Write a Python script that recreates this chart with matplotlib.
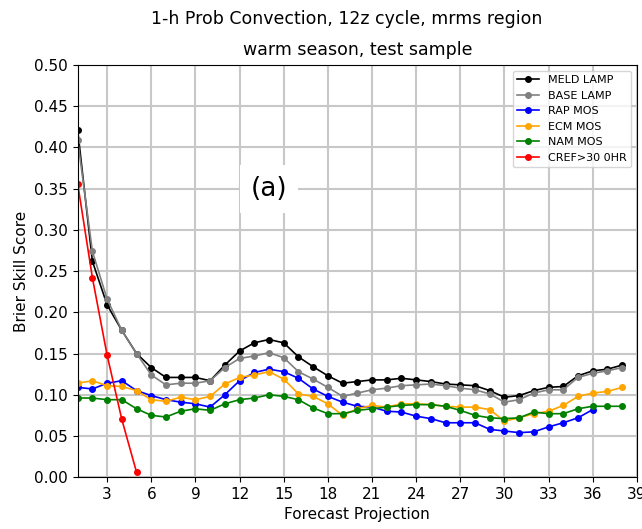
import numpy as np
import matplotlib
matplotlib.use('Agg')
import matplotlib.pyplot as plt

# # --------------------------------------------------------------------------------------------------------------------
proj = np.arange(1, 39)

meld = [0.421, 0.262, 0.209, 0.178, 0.150, 0.133, 0.121, 0.121, 0.121, 0.117,
        0.136, 0.153, 0.163, 0.167, 0.163, 0.146, 0.134, 0.123, 0.114, 0.116,
        0.118, 0.118, 0.120, 0.118, 0.116, 0.113, 0.112, 0.111, 0.105, 0.097,
        0.099, 0.105, 0.109, 0.110, 0.123, 0.129, 0.131, 0.136]
base = [0.409, 0.274, 0.216, 0.178, 0.150, 0.124, 0.112, 0.114, 0.114, 0.117,
        0.133, 0.144, 0.147, 0.151, 0.145, 0.128, 0.119, 0.109, 0.098, 0.102,
        0.106, 0.108, 0.111, 0.112, 0.113, 0.111, 0.108, 0.106, 0.101, 0.091,
        0.094, 0.102, 0.106, 0.106, 0.121, 0.126, 0.129, 0.133]
rap = [0.109, 0.107, 0.114, 0.117, 0.105, 0.099, 0.094, 0.091, 0.089, 0.085,
       0.100, 0.117, 0.127, 0.131, 0.128, 0.120, 0.107, 0.098, 0.091, 0.086,
       0.085, 0.080, 0.079, 0.074, 0.071, 0.066, 0.066, 0.066, 0.058, 0.056,
       0.054, 0.055, 0.061, 0.066, 0.072, 0.082]
ecm = [0.114, 0.117, 0.111, 0.110, 0.105, 0.094, 0.092, 0.097, 0.094, 0.098,
       0.113, 0.121, 0.124, 0.128, 0.119, 0.101, 0.098, 0.089, 0.075, 0.083,
       0.087, 0.085, 0.089, 0.089, 0.088, 0.086, 0.085, 0.085, 0.082, 0.068,
       0.072, 0.077, 0.080, 0.087, 0.098, 0.102, 0.104, 0.109]
nam = [0.096, 0.096, 0.094, 0.094, 0.083, 0.075, 0.073, 0.080, 0.083, 0.081,
       0.089, 0.094, 0.096, 0.100, 0.098, 0.094, 0.084, 0.077, 0.077, 0.081,
       0.083, 0.085, 0.087, 0.088, 0.088, 0.086, 0.081, 0.075, 0.072, 0.071,
       0.072, 0.079, 0.077, 0.077, 0.083, 0.086, 0.086, 0.086]
cref = [0.356, 0.242, 0.148, 0.070, 0.006]

series = [(meld, 'black', 'MELD LAMP'),
          (base, 'grey', 'BASE LAMP'),
          (rap, 'blue', 'RAP MOS'),
          (ecm, 'orange', 'ECM MOS'),
          (nam, 'green', 'NAM MOS'),
          (cref, 'red', 'CREF>30 0HR')]
# # --------------------------------------------------------------------------------------------------------------------
fig = plt.figure(figsize=(6.42, 5.29), dpi=100)
ax = fig.add_axes([0.121, 0.098, 0.871, 0.779])

for vals, col, lab in series:
    ax.plot(proj[:len(vals)], vals, color=col, marker='o', ms=4, lw=1.2, label=lab)

ax.set_xlim(1, 39)
ax.set_ylim(0, 0.5)
ax.set_xticks(np.arange(3, 40, 3))
ax.set_yticks(np.arange(0, 0.51, 0.05))
ax.set_yticklabels(['%.2f' % v for v in np.arange(0, 0.51, 0.05)])
ax.tick_params(labelsize=11)
ax.grid(True, color='#c8c8c8', lw=1.5)
ax.set_axisbelow(True)

ax.set_xlabel('Forecast Projection', fontsize=11)
ax.set_ylabel('Brier Skill Score', fontsize=11)
ax.set_title('warm season, test sample', fontsize=12.5, pad=7)
fig.text(0.54, 0.965, '1-h Prob Convection, 12z cycle, mrms region', ha='center', va='center', fontsize=12.5)

ax.text(14, 0.35, '(a)', fontsize=19, ha='center', va='center',
        bbox=dict(facecolor='white', edgecolor='none', pad=8))

ax.legend(loc='upper right', fontsize=8)

plt.savefig('out.png', dpi=100)
